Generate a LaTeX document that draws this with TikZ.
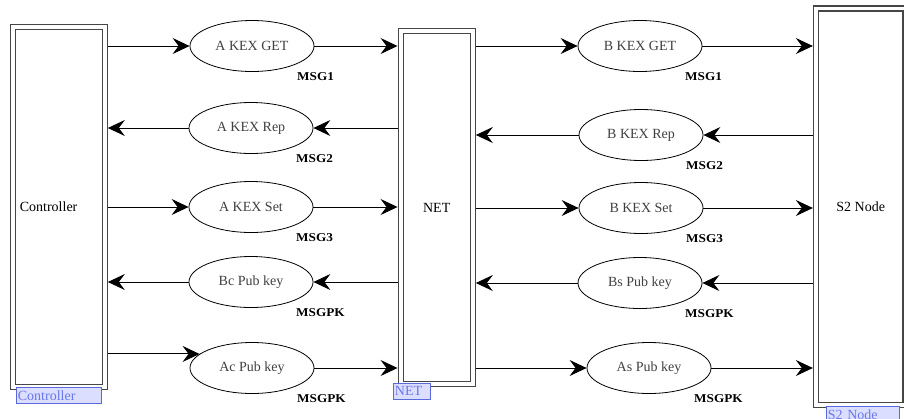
\documentclass[tikz,border=0pt]{standalone}
\usepackage{fontspec}
\setmainfont{Liberation Serif}
\newfontfamily\msgfont{Liberation Serif}[FakeStretch=1.1]
\usetikzlibrary{positioning, shapes.geometric, arrows.meta, calc}

\definecolor{boxgray}{RGB}{70,70,70}
\definecolor{tagfill}{RGB}{220,222,255}
\definecolor{tagdraw}{RGB}{90,105,220}
\definecolor{tagtext}{RGB}{105,120,235}

\begin{document}
\begin{tikzpicture}[x=1pt, y=-1pt,
    font=\fontsize{14}{16}\selectfont,
    unit/.style={draw=boxgray, line width=1.3pt, double, double distance=3.7pt, outer sep=3.15pt, inner sep=0pt},
    msgnode/.style={ellipse, draw, line width=0.8pt, minimum width=124pt, minimum height=51pt, inner sep=0pt, text=black!75},
    msglabel/.style={anchor=west, inner sep=0pt, font=\msgfont\bfseries\fontsize{12}{14}\selectfont},
    tag/.style={anchor=north west, draw=tagdraw, fill=tagfill, text=tagtext, line width=0.8pt, inner sep=1.5pt, minimum height=16pt, align=left},
    flow/.style={line width=1pt, -{Stealth[length=17pt, width=16pt, inset=6pt]}}]

    \useasboundingbox (0,0) rectangle (904,418);
    \clip (0,0) rectangle (904,418);

    % controller, net and s2 node
    \node[unit, minimum width=91.7pt, minimum height=360.2pt, text width=78pt, align=left] (ctrl) at (58.85,206.9) {Controller};
    \node[unit, minimum width=72pt, minimum height=352.6pt] (net) at (436.7,207.5) {NET};
    \node[unit, minimum width=89.5pt, minimum height=396.7pt] (s2) at (860.75,206.85) {S2 Node};

    % messages controller <-> net
    \node[msgnode] (kexgetA) at (252,46) {A KEX GET};
    \node[msgnode] (kexrepA) at (251,128) {A KEX Rep};
    \node[msgnode] (kexsetA) at (251,207) {A KEX Set};
    \node[msgnode] (pubBc) at (251,282) {Bc Pub key};
    \node[msgnode] (pubAc) at (252,368) {Ac Pub key};

    % messages net <-> s2 node
    \node[msgnode] (kexgetB) at (640,46) {B KEX GET};
    \node[msgnode] (kexrepB) at (641,135) {B KEX Rep};
    \node[msgnode] (kexsetB) at (641,208) {B KEX Set};
    \node[msgnode] (pubBs) at (640,283) {Bs Pub key};
    \node[msgnode] (pubAs) at (649,368) {As Pub key};

    % message ids
    \foreach \e/\m in {kexgetA/MSG1, kexrepA/MSG2, kexsetA/MSG3, pubBc/MSGPK, pubAc/MSGPK,
                       kexgetB/MSG1, kexrepB/MSG2, kexsetB/MSG3, pubBs/MSGPK, pubAs/MSGPK}
        \node[msglabel] (\e-id) at ([shift={(45,31)}]\e.center) {\m};

    % row 1 (get)
    \draw[flow] (ctrl.east |- kexgetA) -- (kexgetA);
    \draw[flow] (kexgetA) -- (net.west |- kexgetA);
    \draw[flow] (net.east |- kexgetB) -- (kexgetB);
    \draw[flow] (kexgetB) -- (s2.west |- kexgetB);

    % row 2 (rep)
    \draw[flow] (net.west |- kexrepA) -- (kexrepA);
    \draw[flow] (kexrepA) -- (ctrl.east |- kexrepA);
    \draw[flow] (s2.west |- kexrepB) -- (kexrepB);
    \draw[flow] (kexrepB) -- (net.east |- kexrepB);

    % row 3 (set)
    \draw[flow] (ctrl.east |- kexsetA) -- (kexsetA);
    \draw[flow] (kexsetA) -- (net.west |- kexsetA);
    \draw[flow] (net.east |- kexsetB) -- (kexsetB);
    \draw[flow] (kexsetB) -- (s2.west |- kexsetB);

    % row 4 (s2 pub key back)
    \draw[flow] (net.west |- pubBc) -- (pubBc);
    \draw[flow] (pubBc) -- (ctrl.east |- pubBc);
    \draw[flow] (s2.west |- pubBs) -- (pubBs);
    \draw[flow] (pubBs) -- (net.east |- pubBs);

    % row 5 (controller pub key out)
    \draw[flow] (ctrl.east |- pubAc.165) -- (pubAc.165);
    \draw[flow] (pubAc) -- (net.west |- pubAc);
    \draw[flow] (net.east |- pubAs) -- (pubAs);
    \draw[flow] (pubAs) -- (s2.west |- pubAs);

    % name tags
    \node[tag, text width=82pt] (ctrltag) at (16,387) {Controller};
    \node[tag, text width=34pt] (nettag) at (393,383) {NET};
    \node[tag, text width=70pt] (s2tag) at (826,406) {S2 Node};

\end{tikzpicture}
\end{document}
